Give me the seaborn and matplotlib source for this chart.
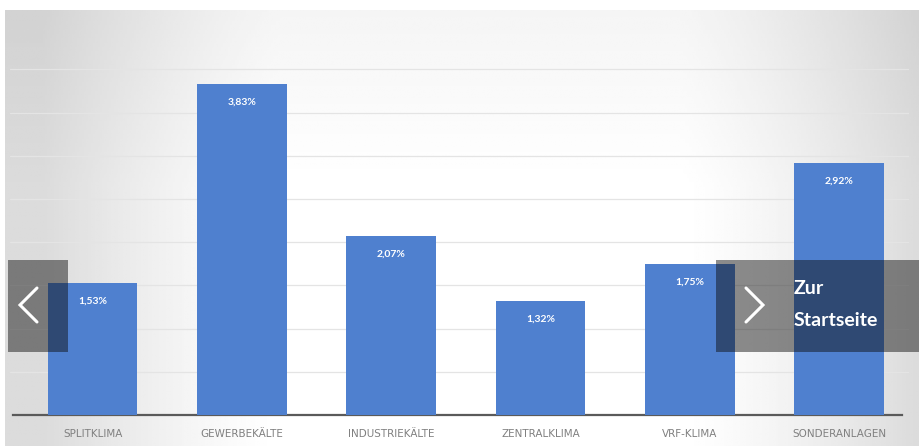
import numpy as np
import pandas as pd
import matplotlib
matplotlib.use("Agg")
import matplotlib.pyplot as plt
import seaborn as sns
from matplotlib.patches import Rectangle
from matplotlib.lines import Line2D

categories = ["SPLITKLIMA", "GEWERBEKÄLTE", "INDUSTRIEKÄLTE", "ZENTRALKLIMA", "VRF-KLIMA", "SONDERANLAGEN"]
values = [1.53, 3.83, 2.07, 1.32, 1.75, 2.92]
labels = ["1,53%", "3,83%", "2,07%", "1,32%", "1,75%", "2,92%"]

sns.set_theme(style="white")
plt.rcParams['font.family'] = ['Lato', 'DejaVu Sans']

W, H = 919, 446
fig = plt.figure(figsize=(W / 100, H / 100), dpi=100)
fig.patch.set_facecolor("white")

def fx(px):
    return px / W

def fy(py):
    return 1 - py / H

# background gradient panel
bg = fig.add_axes([fx(5), 0, fx(W - 5), (H - 10) / H], zorder=-2)
xs = np.linspace(0, 1, 400)
ys = np.linspace(0, 1, 100)[:, None]
d = np.clip((np.abs(xs - 0.52) - 0.22) / 0.26, 0, 1)
prof = 1.0 - 0.14 * d ** 1.3
vert = 1.0 - 0.04 * np.clip((ys - 0.6) / 0.4, 0, 1)
grad = prof[None, :] * vert
bg.imshow(grad, cmap="gray", vmin=0, vmax=1, aspect="auto", extent=[0, 1, 0, 1], origin="lower")
bg.set_axis_off()

# main axes
left_px, right_px = 10, 909
base_px, top_px = 415, 10
ax = fig.add_axes([fx(left_px), (H - base_px) / H, (right_px - left_px) / W, (base_px - top_px) / H])
ax.set_facecolor("none")

df = pd.DataFrame({"cat": categories, "val": values})
sns.barplot(data=df, x="cat", y="val", color="#4f80cf", width=0.6, saturation=1, ax=ax,
            zorder=3, linewidth=0, edgecolor="none")

ppu = 86.4
ax.set_ylim(0, (base_px - top_px) / ppu)
ax.set_xlim(-0.553, -0.553 + (right_px - left_px) / 149.3)

for y in np.arange(0.5, 4.01, 0.5):
    ax.axhline(y, color="#e4e4e4", lw=0.9, zorder=1)

for i, (v, lab) in enumerate(zip(values, labels)):
    ax.annotate(lab, (i, v), xytext=(0, -13), textcoords="offset points",
                ha="center", va="center", color="white", fontsize=7.5, fontweight="bold", zorder=5)

for s in ["top", "right", "left"]:
    ax.spines[s].set_visible(False)
ax.spines["bottom"].set_color("#5a5a5a")
ax.spines["bottom"].set_linewidth(1.6)
ax.spines["bottom"].set_bounds(-0.53, 5.42)
ax.set_yticks([])
ax.set_xlabel("")
ax.set_ylabel("")
ax.tick_params(axis="x", length=0, pad=10, labelsize=7.5, labelcolor="#808080")
for t in ax.get_xticklabels():
    t.set_fontfamily(['Liberation Sans Narrow', 'DejaVu Sans'])

# navigation overlays
def box(x0, y0, x1, y1):
    r = Rectangle((fx(x0), fy(y1)), fx(x1 - x0), (y1 - y0) / H, transform=fig.transFigure,
                  facecolor="#0c0c0c", alpha=0.47, edgecolor="none", zorder=10)
    fig.patches.append(r)

box(8, 260, 68, 352)
box(716, 260, 919, 352)

def chevron(pts):
    xsv = [fx(p[0]) for p in pts]
    ysv = [fy(p[1]) for p in pts]
    fig.lines.append(Line2D(xsv, ysv, transform=fig.transFigure, color="white", lw=2.2,
                            solid_joinstyle="miter", zorder=11))

chevron([(37, 288), (20, 305), (37, 322)])
chevron([(746, 288), (763, 305), (746, 322)])

fig.text(fx(794), fy(289), "Zur", color="white", fontsize=14, fontweight="bold", ha="left", va="center", zorder=11)
fig.text(fx(794), fy(321), "Startseite", color="white", fontsize=14, fontweight="bold", ha="left", va="center", zorder=11)

fig.savefig("out.png", dpi=100)
